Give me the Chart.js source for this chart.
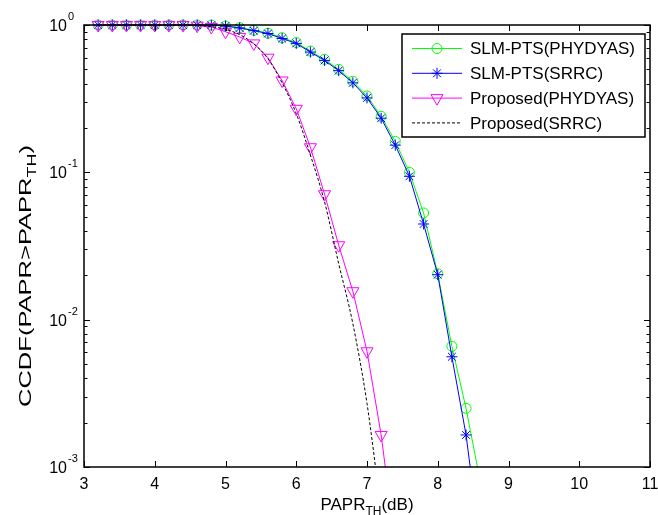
<!DOCTYPE html>
<html>
<head>
<meta charset="utf-8">
<script src="https://cdn.jsdelivr.net/npm/chart.js@4.4.1/dist/chart.umd.min.js"></script>
<style>
  html, body { margin: 0; padding: 0; background: #fff; }
  canvas { display: block; }
</style>
</head>
<body>
<canvas id="ccdf" width="658" height="515"></canvas>
<script>
// PAPR threshold grid (dB)
const slmX = [3.2, 3.4, 3.6, 3.8, 4.0, 4.2, 4.4, 4.6, 4.8, 5.0, 5.2, 5.4, 5.6, 5.8,
	6.0, 6.2, 6.4, 6.6, 6.8, 7.0, 7.2, 7.4, 7.6, 7.8, 8.0, 8.2, 8.4, 8.6];
const propX = [3.2, 3.4, 3.6, 3.8, 4.0, 4.2, 4.4, 4.6, 4.8, 5.0, 5.2, 5.4, 5.6, 5.8,
	6.0, 6.2, 6.4, 6.6, 6.8, 7.0, 7.2, 7.4];
const srrcX = [3.2, 3.4, 3.6, 3.8, 4.0, 4.2, 4.4, 4.6, 4.8, 5.0, 5.2, 5.4, 5.6, 5.8,
	6.0, 6.2, 6.4, 6.6, 6.8, 7.0, 7.2];

// CCDF values
const slmPhydyas = [1, 1, 1, 1, 1, 1, 1, 0.999, 0.998, 0.985, 0.96, 0.92, 0.88, 0.82,
	0.76, 0.665, 0.585, 0.5, 0.415, 0.33, 0.24, 0.162, 0.1, 0.053, 0.0205, 0.0066, 0.0025, 0.0008];
const slmSrrc = [1, 1, 1, 1, 1, 1, 1, 0.999, 0.998, 0.984, 0.955, 0.915, 0.875, 0.81,
	0.75, 0.655, 0.575, 0.49, 0.405, 0.32, 0.233, 0.153, 0.094, 0.0446, 0.0202, 0.0056, 0.00165, 0.0003];
const propPhydyas = [1, 1, 1, 1, 1, 1, 1, 0.99, 0.97, 0.9, 0.83, 0.75, 0.6, 0.42,
	0.27, 0.148, 0.071, 0.032, 0.0156, 0.0061, 0.00165, 0.0003];
const propSrrc = [1, 1, 1, 1, 1, 1, 0.999, 0.993, 0.975, 0.935, 0.86, 0.745, 0.59, 0.405,
	0.25, 0.131, 0.063, 0.024, 0.0094, 0.0027, 0.0005];

const seriesNames = ['SLM-PTS(PHYDYAS)', 'SLM-PTS(SRRC)', 'Proposed(PHYDYAS)', 'Proposed(SRRC)'];

// axis ticks
const xTicks = [3, 4, 5, 6, 7, 8, 9, 10, 11];
const yExponents = [0, -1, -2, -3];
const yMinorMult = [2, 3, 4, 5, 6, 7, 8, 9];

const FONT = '"Liberation Sans", Arial, Helvetica, sans-serif';

function pts(xs, ys) {
	return xs.map((x, i) => ({ x: x, y: ys[i] }));
}

const styles = [
	{ color: '#00ff00', pointStyle: 'circle', radius: 5, rotation: 0, dash: [] },
	{ color: '#0000ff', pointStyle: 'star', radius: 5.5, rotation: 0, dash: [] },
	{ color: '#ff00ff', pointStyle: 'triangle', radius: 7, rotation: 180, dash: [] },
	{ color: '#000000', pointStyle: false, radius: 0, rotation: 0, dash: [3, 2] },
];

// draw a run of text pieces (for sub/superscripts) left to right
function drawRich(ctx, parts, x, y) {
	let cx = x;
	parts.forEach((p) => {
		ctx.font = p.size + 'px ' + FONT;
		ctx.fillText(p.t, cx, y + (p.dy || 0));
		cx += ctx.measureText(p.t).width;
	});
	return cx - x;
}
function richWidth(ctx, parts) {
	let w = 0;
	parts.forEach((p) => {
		ctx.font = p.size + 'px ' + FONT;
		w += ctx.measureText(p.t).width;
	});
	return w;
}

const matlabAxes = {
	id: 'matlabAxes',
	afterDraw(chart) {
		const ctx = chart.ctx;
		const a = chart.chartArea;
		const xs = chart.scales.x;
		const ys = chart.scales.y;
		ctx.save();
		ctx.strokeStyle = '#000';
		ctx.fillStyle = '#000';

		// ticks, inward on all four sides
		ctx.lineWidth = 1;
		ctx.beginPath();
		xTicks.forEach((v) => {
			const px = Math.round(xs.getPixelForValue(v)) + 0.5;
			ctx.moveTo(px, a.bottom); ctx.lineTo(px, a.bottom - 6);
			ctx.moveTo(px, a.top); ctx.lineTo(px, a.top + 6);
		});
		yExponents.forEach((e) => {
			const py = Math.round(ys.getPixelForValue(Math.pow(10, e))) + 0.5;
			ctx.moveTo(a.left, py); ctx.lineTo(a.left + 6, py);
			ctx.moveTo(a.right, py); ctx.lineTo(a.right - 6, py);
			if (e > -3) {
				yMinorMult.forEach((m) => {
					const my = Math.round(ys.getPixelForValue(m * Math.pow(10, e - 1))) + 0.5;
					ctx.moveTo(a.left, my); ctx.lineTo(a.left + 3.5, my);
					ctx.moveTo(a.right, my); ctx.lineTo(a.right - 3.5, my);
				});
			}
		});
		ctx.stroke();

		// box
		ctx.lineWidth = 1.5;
		ctx.strokeRect(a.left, a.top, a.right - a.left, a.bottom - a.top);

		// x tick labels
		ctx.textAlign = 'center';
		ctx.textBaseline = 'alphabetic';
		ctx.font = '16px ' + FONT;
		xTicks.forEach((v) => {
			ctx.fillText(String(v), xs.getPixelForValue(v), a.bottom + 22);
		});

		// y tick labels 10^e
		yExponents.forEach((e) => {
			const py = ys.getPixelForValue(Math.pow(10, e));
			ctx.textAlign = 'right';
			ctx.font = '16px ' + FONT;
			ctx.fillText('10', a.left - 17, py + 6);
			ctx.textAlign = 'left';
			ctx.font = '11px ' + FONT;
			ctx.fillText(String(e), a.left - 16, py - 5);
		});

		// x axis title
		ctx.textAlign = 'left';
		const xParts = [
			{ t: 'PAPR', size: 17 },
			{ t: 'TH', size: 12, dy: 5 },
			{ t: '(dB)', size: 17 },
		];
		const xw = richWidth(ctx, xParts);
		drawRich(ctx, xParts, (a.left + a.right) / 2 - xw / 2, a.bottom + 43);

		// y axis title (rotated, stretched along its length like the original)
		const yParts = [
			{ t: 'CCDF(PAPR>PAPR', size: 17 },
			{ t: 'TH', size: 12, dy: 5 },
			{ t: ')', size: 17 },
		];
		const yw = richWidth(ctx, yParts);
		const stretch = 262 / yw;
		ctx.save();
		ctx.translate(31, 276);
		ctx.rotate(-Math.PI / 2);
		ctx.scale(stretch, 1);
		drawRich(ctx, yParts, -yw / 2, 0);
		ctx.restore();

		// legend
		const lx = 402, ly = 34, lw = 243, lh = 103;
		ctx.fillStyle = '#fff';
		ctx.fillRect(lx, ly, lw, lh);
		ctx.lineWidth = 1.5;
		ctx.strokeStyle = '#000';
		ctx.strokeRect(lx, ly, lw, lh);
		seriesNames.forEach((name, i) => {
			const st = styles[i];
			const ry = 48.5 + i * 24.8;
			ctx.save();
			ctx.strokeStyle = st.color;
			ctx.fillStyle = 'rgba(0,0,0,0)';
			ctx.lineWidth = 1;
			ctx.setLineDash(st.dash);
			ctx.beginPath();
			ctx.moveTo(412, ry); ctx.lineTo(462, ry);
			ctx.stroke();
			ctx.setLineDash([]);
			if (st.pointStyle) {
				Chart.helpers.drawPoint(ctx, {
					pointStyle: st.pointStyle,
					radius: st.radius,
					rotation: st.rotation,
					borderWidth: 1,
				}, 437, ry);
			}
			ctx.restore();
			ctx.fillStyle = '#000';
			ctx.textAlign = 'left';
			ctx.textBaseline = 'middle';
			ctx.font = '17px ' + FONT;
			ctx.fillText(name, 470, ry + 1);
		});
		ctx.restore();
	},
};

const seriesData = [
	pts(slmX, slmPhydyas),
	pts(slmX, slmSrrc),
	pts(propX, propPhydyas),
	pts(srrcX, propSrrc),
];

const datasets = seriesData.map((d, i) => {
	const st = styles[i];
	return {
		label: seriesNames[i],
		data: d,
		borderColor: st.color,
		borderWidth: 1,
		borderDash: st.dash,
		pointStyle: st.pointStyle,
		pointRadius: st.radius,
		pointRotation: st.rotation,
		pointBorderColor: st.color,
		pointBackgroundColor: 'rgba(0,0,0,0)',
		pointBorderWidth: 1,
		tension: 0,
		cubicInterpolationMode: i === 3 ? 'monotone' : 'default',
		order: 4 - i,
		clip: { left: 10, top: 10, right: 10, bottom: 0 },
	};
});

new Chart(document.getElementById('ccdf'), {
	type: 'line',
	data: { datasets: datasets },
	options: {
		responsive: false,
		animation: false,
		layout: { padding: { left: 84, top: 25, right: 6, bottom: 48 } },
		scales: {
			x: { type: 'linear', min: 3, max: 11, display: false },
			y: { type: 'logarithmic', min: 0.001, max: 1, display: false },
		},
		plugins: {
			legend: { display: false },
			tooltip: { enabled: false },
		},
	},
	plugins: [matlabAxes],
});
</script>
</body>
</html>
